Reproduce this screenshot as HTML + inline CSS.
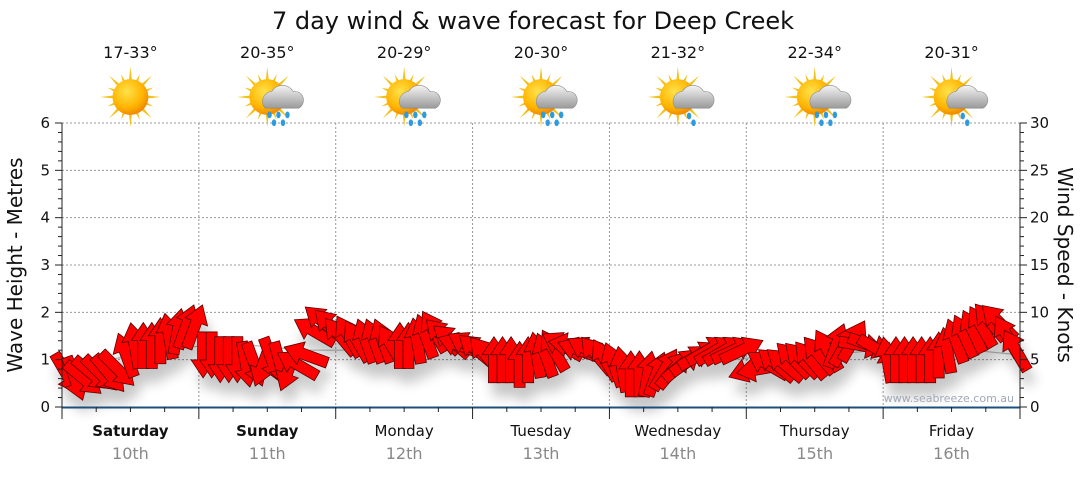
<!DOCTYPE html>
<html><head><meta charset="utf-8">
<style>
body{margin:0;background:#fff;font-family:"Liberation Sans","DejaVu Sans",sans-serif;}
svg text{font-family:"DejaVu Sans","Liberation Sans",sans-serif;}
</style></head>
<body>
<svg id="chart" width="1080" height="475" viewBox="0 0 1080 475" xmlns="http://www.w3.org/2000/svg">
<defs>
<filter id="sh" x="-50%" y="-50%" width="200%" height="200%"><feGaussianBlur stdDeviation="6"/></filter>
<radialGradient id="sunG" cx="40%" cy="35%" r="65%"><stop offset="0" stop-color="#ffe24a"/><stop offset="0.7" stop-color="#ffb300"/><stop offset="1" stop-color="#f08a00"/></radialGradient>
<linearGradient id="cloudG" x1="0" y1="0" x2="0" y2="1"><stop offset="0" stop-color="#f4f4f4"/><stop offset="1" stop-color="#9a9a9a"/></linearGradient>
</defs>
<text x="533" y="29" font-size="24" text-anchor="middle" fill="#111">7 day wind &amp; wave forecast for Deep Creek</text>
<g id="grid"></g>
<g id="waves"></g>
<g id="shadows" filter="url(#sh)" opacity="0.22"></g>
<g id="arrows"></g>
<g id="axes"></g>
<g id="icons"></g>
<text transform="translate(22,265) rotate(-90)" font-size="20" text-anchor="middle" fill="#111">Wave Height - Metres</text>
<text transform="translate(1058,265) rotate(90)" font-size="20" text-anchor="middle" fill="#111">Wind Speed - Knots</text>
<text x="1014" y="402" font-size="11" text-anchor="end" fill="#a0a8b8">www.seabreeze.com.au</text>
</svg>
<script>
const days = ["Saturday","Sunday","Monday","Tuesday","Wednesday","Thursday","Friday"];
const dates = ["10th","11th","12th","13th","14th","15th","16th"];
const temps = ["17-33°","20-35°","20-29°","20-30°","21-32°","22-34°","20-31°"];
const icons = ["sun","rain","rain","rain","shower","rain","shower"];
const waveTicks = [0,1,2,3,4,5,6];
const windTicks = [0,5,10,15,20,25,30];
const windSpeed = [
3.5,3,3,3.5,3.5,3.5,4,5.5,6.5,6.5,6.5,7,7.5,8,8.5,8.5,
5.5,5.5,5,5,5,4.5,4.5,4.5,5,4.5,4,4.5,5.5,8,9,8.5,
7.5,7.5,7,7,7,7,6.5,6.5,6.5,7,7.5,8,7.5,7,6.5,6.5,
6,5.5,5,5,5,4.5,5,5.5,5.5,6,6.5,6.5,6,6,5.5,5,
4.5,4,3.5,3.5,3.5,3.5,4,4,4.5,5,5.5,6,6,6,6,6,
4,4,4.5,4.5,4.5,5,5,5,5.5,6,6.5,6.5,7,6.5,6.5,6,
5,5,5,5,5,5,5.5,6,7,7.5,8,8.5,9,9,7.5,6];
const windDir = [
150,160,130,130,135,140,135,-20,-10,0,0,0,-10,10,20,20,
180,180,180,180,180,170,160,200,160,165,200,-60,-70,-60,-50,-45,
-40,-30,-30,-20,-20,-20,-30,0,0,-10,-20,-30,-45,-50,-70,-60,
-50,-40,0,0,0,0,0,-10,-20,-30,-60,-80,-70,-60,-40,-30,
-20,-10,0,0,10,20,30,40,50,55,60,60,60,60,65,65,
-110,-100,-60,-50,-50,-45,-45,-40,-40,-30,20,30,30,100,110,120,
-10,0,0,0,0,0,0,-10,-20,-25,-25,-30,-40,-45,-30,-30];
const waveHeight = [0.9,1.0,1.2,1.3,1.3,1.2,1.2,1.1,1.3,1.3,1.2,1.1,1.0,0.9,1.0,1.1,1.1,1.2,1.2,1.2,1.1];

const NS="http://www.w3.org/2000/svg";
const X0=62,X1=1020,Y0=407,Y1=123,DW=(X1-X0)/7;
const yW=v=>Y0-(v/6)*(Y0-Y1);
const yK=v=>Y0-(v/30)*(Y0-Y1);
const xI=i=>X0+(i+0.5)*DW/16;
function mk(tag,attrs,parent){const e=document.createElementNS(NS,tag);for(const k in attrs)e.setAttribute(k,attrs[k]);parent.appendChild(e);return e;}
const grid=document.getElementById('grid'),axes=document.getElementById('axes'),arrowsG=document.getElementById('arrows'),shG=document.getElementById('shadows'),iconsG=document.getElementById('icons'),wavesG=document.getElementById('waves');

for(const t of waveTicks){ if(t>0){const l=mk('line',{x1:X0,x2:X1,y1:yW(t),y2:yW(t),stroke:'#999','stroke-dasharray':'2,2'},grid);

}
 const tx=mk('text',{x:50,y:yW(t)+5,'font-size':15,'text-anchor':'end',fill:'#111'},axes);tx.textContent=t;
 
 
}
for(const t of windTicks){const tx=mk('text',{x:1030,y:yK(t)+5,'font-size':15,fill:'#111'},axes);tx.textContent=t;
 
 }
for(let d=1;d<7;d++){const l=mk('line',{x1:X0+d*DW,x2:X0+d*DW,y1:Y1,y2:Y0,stroke:'#999','stroke-dasharray':'2,2'},grid);

}
mk('line',{x1:X0,x2:X0,y1:Y1,y2:Y0,stroke:'#222'},axes);
mk('line',{x1:X1,x2:X1,y1:Y1,y2:Y0,stroke:'#222'},axes);
for(let k=0;k<=30;k++){const y=yW(k/5);mk('line',{x1:X0-(k%5?4:7),x2:X0,y1:y,y2:y,stroke:'#222'},axes);}
for(let k=0;k<=30;k++){const y=yK(k);mk('line',{x1:X1,x2:X1+(k%5?4:7),y1:y,y2:y,stroke:'#222'},axes);}
mk('line',{x1:X0,x2:X1,y1:Y0+0.5,y2:Y0+0.5,stroke:'#1c4f7c','stroke-width':2},axes);
for(let k=0;k<=28;k++){const x=X0+k*DW/4;mk('line',{x1:x,x2:x,y1:Y0,y2:Y0+(k%4?5:12),stroke:'#222'},axes);}
days.forEach((d,i)=>{const cx=X0+(i+0.5)*DW;
 const a=mk('text',{x:cx,y:436,'font-size':15,'text-anchor':'middle',fill:'#111','font-weight':i<2?'bold':'normal'},axes);a.textContent=d;
 
 
 const b=mk('text',{x:cx,y:459,'font-size':16,'text-anchor':'middle',fill:'#888'},axes);b.textContent=dates[i];
 
 
 const c=mk('text',{x:cx,y:58,'font-size':16,'text-anchor':'middle',fill:'#111'},iconsG);c.textContent=temps[i];
 
 
 const g=mk('g',{transform:`translate(${cx},97) scale(1.12)`},iconsG);
 
 
 for(let r=0;r<16;r++){const ang=r*22.5*Math.PI/180,len=r%2?22:27;
  mk('polygon',{points:`${Math.cos(ang-0.12)*13},${Math.sin(ang-0.12)*13} ${Math.cos(ang)*len},${Math.sin(ang)*len} ${Math.cos(ang+0.12)*13},${Math.sin(ang+0.12)*13}`,fill:'#f3c11a'},g);}
 mk('circle',{cx:0,cy:0,r:16,fill:'url(#sunG)'},g);
 if(icons[i]!=='sun'){
  mk('path',{d:'M-2,10 a9,9 0 0 1 6,-15 a11,11 0 0 1 19,0 a8,8 0 0 1 5,15 z',fill:'url(#cloudG)',stroke:'#888','stroke-width':0.5},g);
  const drops=icons[i]==='rain'?[[2,16],[10,16],[18,16],[6,23],[14,23]]:[[10,17],[14,23]];
  drops.forEach(p=>mk('ellipse',{cx:p[0],cy:p[1],rx:2,ry:3,fill:'#2e9be0'},g));
 }
});
let wp='';waveHeight.forEach((v,i)=>{const x=X0+i*(X1-X0)/(waveHeight.length-1);wp+=(i?'L':'M')+x+','+yW(v);});
const wl=mk('path',{d:wp,fill:'none',stroke:'#bbb','stroke-width':1.2},wavesG);


const shape='0,-23 12,-5 5.5,-5 5.5,23 -5.5,23 -5.5,-5 -12,-5';
windSpeed.forEach((s,i)=>{const x=xI(i),y=yK(s),a=windDir[i];
 mk('polygon',{points:shape,fill:'#000',transform:`translate(${x+4},${y+14}) rotate(${a})`},shG);
 const p=mk('polygon',{points:shape,fill:'#ff0000',stroke:'#5a0000','stroke-width':0.8,'stroke-linejoin':'miter',transform:`translate(${x},${y}) rotate(${a})`},arrowsG);
 
 
});
</script>
</body></html>
